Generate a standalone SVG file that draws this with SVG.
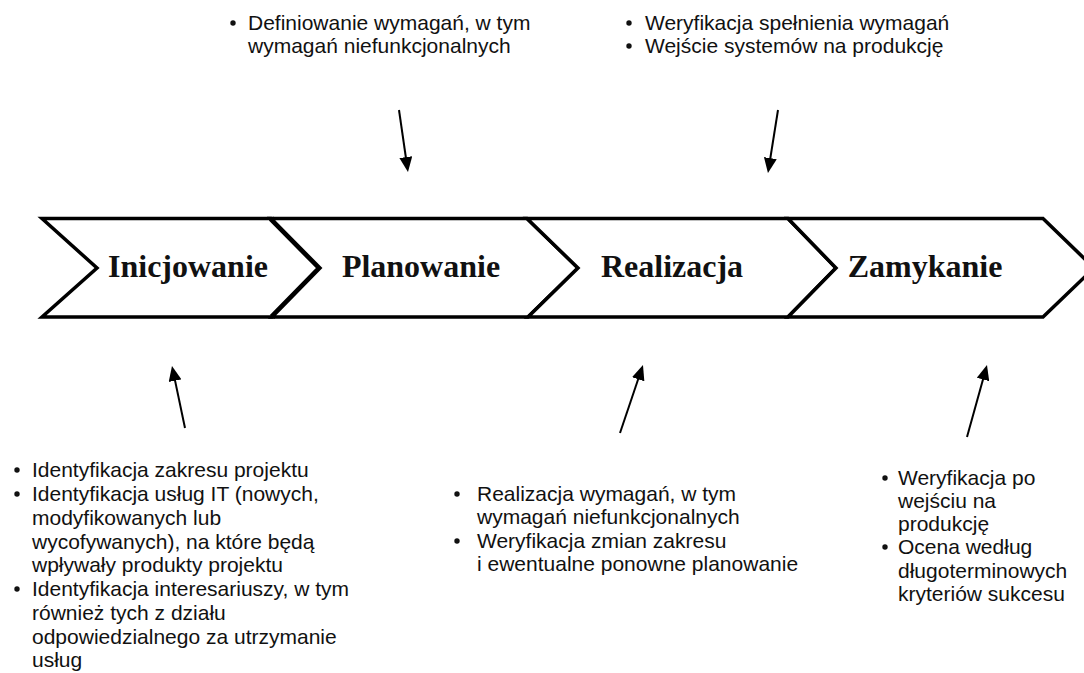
<svg xmlns="http://www.w3.org/2000/svg" width="1084" height="673" viewBox="0 0 1084 673">
<style>
.chev{fill:#fff;stroke:#000;stroke-width:3.5;stroke-linejoin:miter}
.lbl{font-family:"Liberation Serif","Times New Roman",serif;font-weight:bold;font-size:32px;fill:#111;text-anchor:middle}
.txt{font-family:"Liberation Sans",Arial,sans-serif;font-size:21px;fill:#111}
.bul{fill:#111}
.arr{stroke:#000;stroke-width:2;fill:none;marker-end:url(#ah)}
</style>
<defs>
<marker id="ah" viewBox="0 0 15 13" refX="11" refY="6.5" markerWidth="15" markerHeight="13" markerUnits="userSpaceOnUse" orient="auto">
<path d="M0,0 L15,6.5 L0,13 Z" fill="#000"/>
</marker>
</defs>
<rect width="1084" height="673" fill="#fff"/>

<g id="inicjowanie">
<polygon class="chev" points="42,218.5 271,218.5 320,268 272,317 42,317 97,268"/>
<polyline points="271,218.5 320,268 272,317" fill="none" stroke="#000" stroke-width="6"/>
<text class="lbl" x="188" y="277">Inicjowanie</text>
</g>
<g id="planowanie">
<polygon class="chev" points="271,218.5 527,218.5 578,268 528,317 272,317 320,268"/>
<text class="lbl" x="421" y="277">Planowanie</text>
</g>
<g id="realizacja">
<polygon class="chev" points="527,218.5 788,218.5 836,268 788,317 528,317 578,268"/>
<text class="lbl" x="672" y="277">Realizacja</text>
</g>
<g id="zamykanie">
<polygon class="chev" points="788,218.5 1043,218.5 1094,268 1043,317 788,317 836,268"/>
<text class="lbl" x="925" y="277">Zamykanie</text>
</g>

<g id="note-planowanie">
<circle class="bul" cx="233" cy="23" r="2.7"/>
<text class="txt" x="248" y="30">Definiowanie wymagań, w tym</text>
<text class="txt" x="248" y="53">wymagań niefunkcjonalnych</text>
</g>
<g id="note-realizacja-top">
<circle class="bul" cx="629" cy="23" r="2.7"/>
<text class="txt" x="645" y="30">Weryfikacja spełnienia wymagań</text>
<circle class="bul" cx="629" cy="46" r="2.7"/>
<text class="txt" x="645" y="53">Wejście systemów na produkcję</text>
</g>
<g id="note-inicjowanie">
<circle class="bul" cx="17" cy="470" r="2.7"/>
<text class="txt" x="32" y="477">Identyfikacja zakresu projektu</text>
<circle class="bul" cx="17" cy="494" r="2.7"/>
<text class="txt" x="32" y="501">Identyfikacja usług IT (nowych,</text>
<text class="txt" x="32" y="525">modyfikowanych lub</text>
<text class="txt" x="32" y="549">wycofywanych), na które będą</text>
<text class="txt" x="32" y="572">wpływały produkty projektu</text>
<circle class="bul" cx="17" cy="589" r="2.7"/>
<text class="txt" x="32" y="596">Identyfikacja interesariuszy, w tym</text>
<text class="txt" x="32" y="620">również tych z działu</text>
<text class="txt" x="32" y="644">odpowiedzialnego za utrzymanie</text>
<text class="txt" x="32" y="667">usług</text>
</g>
<g id="note-realizacja-bottom">
<circle class="bul" cx="457" cy="494" r="2.7"/>
<text class="txt" x="477" y="501">Realizacja wymagań, w tym</text>
<text class="txt" x="477" y="524">wymagań niefunkcjonalnych</text>
<circle class="bul" cx="457" cy="541" r="2.7"/>
<text class="txt" x="477" y="548">Weryfikacja zmian zakresu</text>
<text class="txt" x="477" y="571">i ewentualne ponowne planowanie</text>
</g>
<g id="note-zamykanie">
<circle class="bul" cx="885" cy="478" r="2.7"/>
<text class="txt" x="898" y="485">Weryfikacja po</text>
<text class="txt" x="898" y="508">wejściu na</text>
<text class="txt" x="898" y="531">produkcję</text>
<circle class="bul" cx="885" cy="547" r="2.7"/>
<text class="txt" x="898" y="554">Ocena według</text>
<text class="txt" x="898" y="578">długoterminowych</text>
<text class="txt" x="898" y="601">kryteriów sukcesu</text>
</g>

<g id="connectors">
<line class="arr" x1="399" y1="110" x2="407.4" y2="168"/>
<line class="arr" x1="778" y1="110" x2="768.6" y2="169"/>
<line class="arr" x1="185" y1="428" x2="172.8" y2="369.9"/>
<line class="arr" x1="620" y1="433" x2="641.7" y2="368.8"/>
<line class="arr" x1="967" y1="437" x2="985.9" y2="368.9"/>
</g>
</svg>
